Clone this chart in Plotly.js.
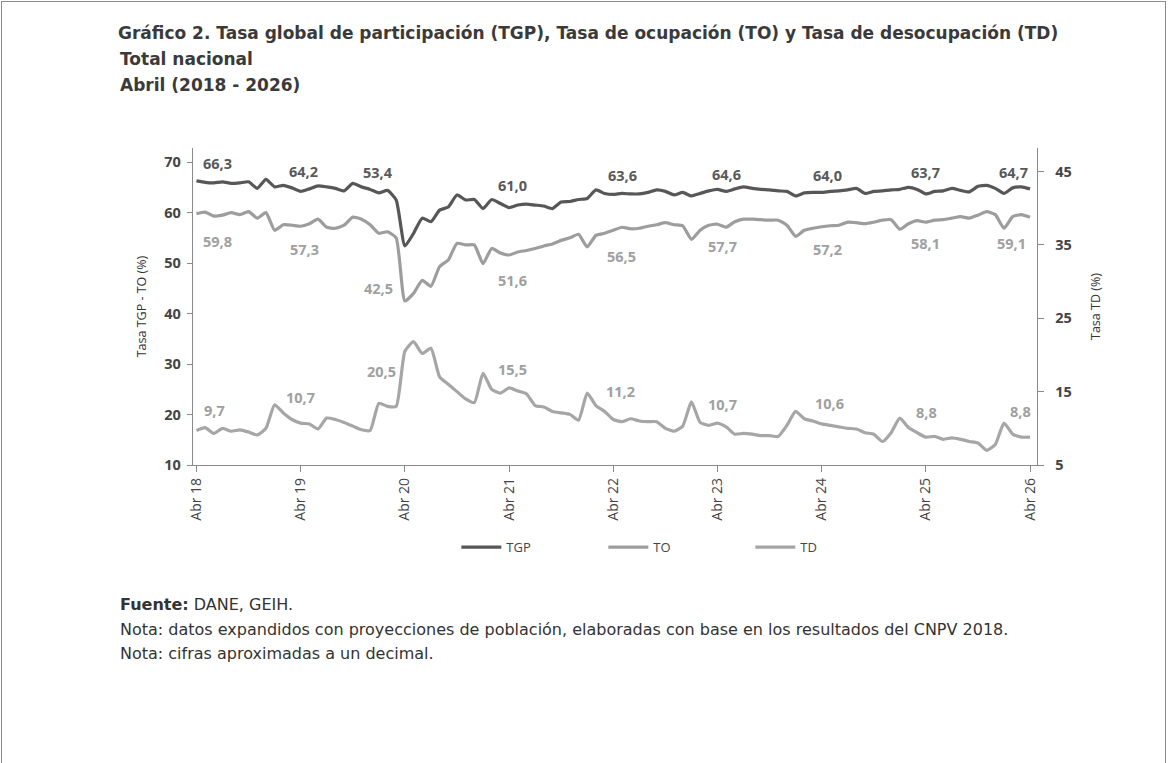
<!DOCTYPE html>
<html><head><meta charset="utf-8">
<script src="https://cdn.plot.ly/plotly-3.0.1.min.js"></script>
<style>
html,body{margin:0;padding:0;background:#fff;}
#chart{width:1168px;height:763px;}
#frame{position:absolute;left:1px;top:1px;width:1165px;height:770px;box-sizing:border-box;border:1px solid #8c8c8c;pointer-events:none;}
</style></head><body>
<div id="chart"></div><div id="frame"></div>
<script>
// ---- data ----
const monthNames = ["Ene","Feb","Mar","Abr","May","Jun","Jul","Ago","Sep","Oct","Nov","Dic"];
const months = [];
for (let y = 2018, m = 3; !(y === 2026 && m > 3); ) {
  months.push(monthNames[m] + " " + String(y).slice(2));
  m++; if (m > 11) { m = 0; y++; }
}
const tgp = [66.3,66.0,65.9,66.1,65.8,65.9,66.1,64.8,66.6,65.1,65.4,64.9,64.2,64.7,65.3,65.1,64.8,64.3,65.8,65.1,64.6,63.9,64.4,62.5,53.4,
  55.9,58.9,58.2,60.5,61.1,63.5,62.5,62.6,60.8,62.6,61.8,61.0,61.5,61.7,61.5,61.3,60.8,62.1,62.2,62.6,62.8,64.5,63.8,63.6,
  63.8,63.7,63.7,64.0,64.5,64.2,63.5,64.0,63.3,63.8,64.3,64.6,64.2,64.7,65.1,64.8,64.6,64.5,64.3,64.2,63.3,63.9,64.0,64.0,
  64.2,64.3,64.5,64.8,63.8,64.2,64.3,64.5,64.6,65.0,64.6,63.7,64.2,64.3,64.8,64.4,64.1,65.2,65.4,64.8,63.8,64.9,65.1,64.7];
const to = [59.8,60.1,59.3,59.5,60.0,59.6,60.2,58.9,60.0,56.5,57.6,57.5,57.3,57.8,58.7,57.1,56.9,57.5,59.1,58.7,57.6,55.9,56.2,55.0,42.5,
  44.0,46.6,45.4,49.3,50.6,53.9,53.6,53.6,49.9,52.9,52.0,51.6,52.2,52.5,52.9,53.4,53.8,54.5,55.0,55.7,53.2,55.5,55.9,56.5,
  57.1,56.8,56.9,57.3,57.6,58.0,57.6,57.4,54.7,56.5,57.5,57.7,57.1,58.2,58.7,58.7,58.6,58.5,58.5,57.5,55.3,56.5,56.9,57.2,
  57.4,57.5,58.1,58.0,57.8,58.1,58.5,58.6,56.7,57.8,58.4,58.1,58.5,58.6,58.9,59.2,58.9,59.5,60.2,59.6,56.9,59.2,59.6,59.1];
const td = [9.7,10.1,9.3,10.0,9.6,9.8,9.5,9.1,10.0,13.2,12.1,11.2,10.7,10.6,9.9,11.4,11.2,10.8,10.3,9.8,9.7,13.4,13.0,13.0,20.5,21.8,
  20.2,20.9,17.0,16.0,15.0,14.0,13.5,17.5,15.3,14.8,15.5,15.1,14.7,13.1,12.9,12.3,12.1,11.9,11.1,14.8,13.1,12.3,11.2,10.9,11.3,11.0,10.9,10.9,10.0,9.6,10.3,13.6,
  10.8,10.4,10.7,10.2,9.2,9.3,9.2,9.0,9.0,8.9,10.4,12.3,11.3,11.0,10.6,10.4,10.2,10.0,9.9,9.4,9.2,8.2,9.4,11.4,10.1,9.4,8.8,8.9,8.5,8.7,8.5,8.2,8.0,7.0,7.8,10.7,9.2,8.8,8.8];
const tickLabels = ["Abr 18","Abr 19","Abr 20","Abr 21","Abr 22","Abr 23","Abr 24","Abr 25","Abr 26"];
const leftTicks = [10,20,30,40,50,60,70];
const rightTicks = [5,15,25,35,45];

// ---- label offsets (px), style only ----
const offTGP = [[21,17],[3,20],[-27,73],[3,22],[9,19],[9,15],[6,17],[0,21],[-17,16]];
const offTO  = [[21,-28],[4,-23],[-26,12],[3,-25],[8,-26],[5,-22],[6,-23],[0,-21],[-19,-26]];
const offTD  = [[18,20],[0,26],[-23,-20],[3,18],[7,28],[5,19],[8,20],[1,25],[-10,26]];

const fmt = v => v.toFixed(1).replace('.', ',');
const cTGP = '#575757', cTO = '#9d9d9d', cTD = '#a6a6a6';

const traces = [
  {x: months, y: tgp, name: 'TGP', type: 'scatter', mode: 'lines', line: {color: cTGP, width: 3.2, shape: 'spline', smoothing: 0.5}},
  {x: months, y: to, name: 'TO', type: 'scatter', mode: 'lines', line: {color: cTO, width: 3.2, shape: 'spline', smoothing: 0.5}},
  {x: months, y: td, name: 'TD', type: 'scatter', mode: 'lines', yaxis: 'y2', line: {color: cTD, width: 3.2, shape: 'spline', smoothing: 0.5}}
];

const labFont = (c) => ({size: 14.5, color: c, family: 'Open Sans', weight: 'bold'});
const anns = [];
tickLabels.forEach((lab, k) => {
  const i = months.indexOf(lab);
  anns.push({x: lab, y: tgp[i], xref: 'x', yref: 'y', text: fmt(tgp[i]), showarrow: false,
    xshift: offTGP[k][0], yshift: offTGP[k][1], font: labFont('#595959')});
  anns.push({x: lab, y: to[i], xref: 'x', yref: 'y', text: fmt(to[i]), showarrow: false,
    xshift: offTO[k][0], yshift: offTO[k][1], font: labFont('#a0a0a0')});
  anns.push({x: lab, y: td[i], xref: 'x', yref: 'y2', text: fmt(td[i]), showarrow: false,
    xshift: offTD[k][0], yshift: offTD[k][1], font: labFont('#a0a0a0')});
});

const titleFont = {family: 'DejaVu Sans', size: 17, color: '#3a3a3a', weight: 'bold'};
anns.push({xref: 'paper', yref: 'paper', x: -0.0889, y: 1.2808, xanchor: 'left', yanchor: 'middle', showarrow: false,
  text: '<b>Total nacional</b>', font: titleFont});
anns.push({xref: 'paper', yref: 'paper', x: -0.0889, y: 1.1987, xanchor: 'left', yanchor: 'middle', showarrow: false,
  text: '<b>Abril (2018 - 2026)</b>', font: titleFont});
const footFont = {family: 'DejaVu Sans', size: 16, color: '#333'};
anns.push({xref: 'paper', yref: 'paper', x: -0.0889, y: -0.4416, xanchor: 'left', yanchor: 'middle', showarrow: false,
  text: '<b>Fuente:</b> DANE, GEIH.', font: footFont});
anns.push({xref: 'paper', yref: 'paper', x: -0.0889, y: -0.5205, xanchor: 'left', yanchor: 'middle', showarrow: false,
  text: 'Nota: datos expandidos con proyecciones de población, elaboradas con base en los resultados del CNPV 2018.', font: footFont});
anns.push({xref: 'paper', yref: 'paper', x: -0.0889, y: -0.5962, xanchor: 'left', yanchor: 'middle', showarrow: false,
  text: 'Nota: cifras aproximadas a un decimal.', font: footFont});

const layout = {
  width: 1168, height: 763,
  paper_bgcolor: '#fff', plot_bgcolor: '#fff',
  margin: {l: 193, r: 131, t: 148, b: 298},
  font: {family: 'Open Sans', color: '#444'},
  title: {text: '<b>Gráfico 2. Tasa global de participación (TGP), Tasa de ocupación (TO) y Tasa de desocupación (TD)</b>',
    xref: 'container', yref: 'container', x: 118/1168, xanchor: 'left', y: 1 - 33/763, yanchor: 'middle', font: titleFont},
  showlegend: true,
  legend: {orientation: 'h', x: 0.312, xanchor: 'left', y: -0.259, yanchor: 'middle', entrywidth: 92, entrywidthmode: 'pixels',
    font: {size: 13, color: '#444'}, itemwidth: 40, tracegroupgap: 0},
  xaxis: {type: 'category', range: [-0.4, 96.8], tickvals: tickLabels, ticktext: tickLabels, tickangle: -90,
    showline: true, linecolor: '#8a8a8a', linewidth: 1.3, ticks: 'outside', ticklen: 6, tickcolor: '#8a8a8a',
    showgrid: false, zeroline: false, tickfont: {size: 14, color: '#444'}},
  yaxis: {range: [10, 72.8], tickvals: leftTicks, showline: true, linecolor: '#8a8a8a', linewidth: 1.3,
    ticks: 'outside', ticklen: 5, tickcolor: '#8a8a8a', showgrid: false, zeroline: false, ticklabelstandoff: 3,
    tickfont: {size: 14.5, color: '#444', weight: 'bold'},
    title: {text: 'Tasa TGP - TO (%)', standoff: 14, font: {size: 12.5, color: '#333'}}},
  yaxis2: {range: [5, 48.2], tickvals: rightTicks, overlaying: 'y', side: 'right', showline: true, linecolor: '#8a8a8a', linewidth: 1.3,
    ticks: 'outside', ticklen: 6, tickcolor: '#8a8a8a', showgrid: false, zeroline: false, ticklabelstandoff: 8,
    tickfont: {size: 14.5, color: '#444', weight: 'bold'},
    title: {text: 'Tasa TD (%)', standoff: 20, font: {size: 12.5, color: '#333'}}},
  annotations: anns
};

Plotly.newPlot('chart', traces, layout, {displayModeBar: false, staticPlot: true});
</script>
</body></html>
